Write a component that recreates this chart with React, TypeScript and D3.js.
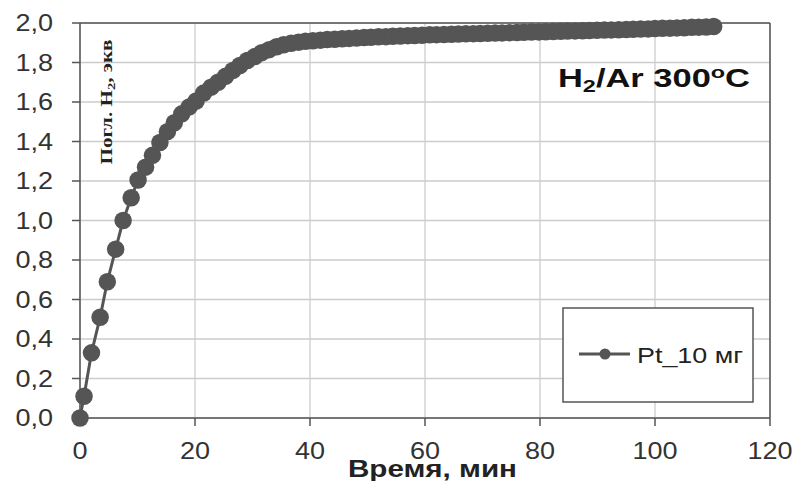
import React from 'react';
import * as d3 from 'd3';

// time, min
const times = [
  0, 0.7, 2.0, 3.5, 4.75, 6.2, 7.5, 8.9, 10.1, 11.4, 12.6, 13.9, 15.2, 16.4, 17.7, 19.0,
  20.2, 21.5, 22.8, 24.0, 25.3, 26.6, 27.8, 29.1, 30.4, 31.6, 32.9, 34.2, 35.4, 36.7, 38.0,
  39.2, 40.5, 41.8, 43.0, 44.3, 45.6, 46.8, 48.1, 49.4, 50.6, 51.9, 53.2, 54.4, 55.7, 57.0,
  58.2, 59.5, 60.8, 62.0, 63.3, 64.6, 65.8, 67.1, 68.4, 69.6, 70.9, 72.2, 73.4, 74.7, 76.0,
  77.2, 78.5, 79.8, 81.0, 82.3, 83.6, 84.8, 86.1, 87.4, 88.6, 89.9, 91.2, 92.4, 93.7, 95.0,
  96.2, 97.5, 98.8, 100.0, 101.3, 102.6, 103.8, 105.1, 106.4, 107.6, 108.9, 110.2,
];

// H2 uptake, equiv
const uptake = [
  0, 0.11, 0.33, 0.51, 0.69, 0.855, 1.0, 1.115, 1.205, 1.27, 1.33, 1.395, 1.45, 1.495, 1.54, 1.575,
  1.605, 1.645, 1.675, 1.70, 1.73, 1.76, 1.785, 1.81, 1.83, 1.85, 1.865, 1.88, 1.89, 1.897, 1.903,
  1.907, 1.91, 1.913, 1.916, 1.918, 1.92, 1.922, 1.924, 1.926, 1.928, 1.93, 1.931, 1.933, 1.934, 1.936,
  1.937, 1.938, 1.94, 1.941, 1.942, 1.943, 1.944, 1.945, 1.946, 1.947, 1.948, 1.949, 1.95, 1.951, 1.952,
  1.953, 1.954, 1.955, 1.956, 1.957, 1.958, 1.959, 1.96, 1.961, 1.962, 1.963, 1.964, 1.965, 1.966, 1.967,
  1.968, 1.969, 1.97, 1.972, 1.973, 1.974, 1.975, 1.976, 1.978, 1.979, 1.98, 1.982,
];

const xTicks = [0, 20, 40, 60, 80, 100, 120];
const yTicks = [0, 0.2, 0.4, 0.6, 0.8, 1.0, 1.2, 1.4, 1.6, 1.8, 2.0];
const seriesName = 'Pt_10 мг';

const W = 798;
const H = 481;
const margin = { top: 23, right: 28, bottom: 63, left: 80 };
const ink = '#555';
const grid = '#cccccc';

export default function App() {
  const x = d3.scaleLinear().domain([0, 120]).range([margin.left, W - margin.right]);
  const y = d3.scaleLinear().domain([0, 2]).range([H - margin.bottom, margin.top]);
  const data = times.map((t, i) => ({ t, v: uptake[i] }));
  const line = d3.line<{ t: number; v: number }>().x(d => x(d.t)).y(d => y(d.v));
  const fmt = (v: number) => d3.format('.1f')(v).replace('.', ',');

  const x0 = x(0), x1 = x(120), y0 = y(0), y1 = y(2);

  return (
    <svg width={W} height={H} style={{ position: 'absolute', left: 0, top: 0, background: '#fff' }}
      fontFamily="Arial, 'Liberation Sans', sans-serif">
      {/* grid */}
      {yTicks.map(t => (
        <line key={'gy' + t} x1={x0} x2={x1} y1={y(t)} y2={y(t)} stroke={grid} strokeWidth={1.3} />
      ))}
      {xTicks.map(t => (
        <line key={'gx' + t} x1={x(t)} x2={x(t)} y1={y0} y2={y1} stroke={grid} strokeWidth={1.3} />
      ))}
      {/* frame */}
      <line x1={x0} x2={x1} y1={y1} y2={y1} stroke={ink} strokeWidth={1.5} />
      <line x1={x1} x2={x1} y1={y1} y2={y0} stroke={ink} strokeWidth={1.5} />
      <line x1={x0} x2={x0} y1={y1} y2={y0} stroke={ink} strokeWidth={1.5} />
      <line x1={x0} x2={x1} y1={y0} y2={y0} stroke={ink} strokeWidth={1.5} />
      {/* ticks + labels */}
      {yTicks.map(t => (
        <g key={'ty' + t}>
          <line x1={x0 - 8} x2={x0} y1={y(t)} y2={y(t)} stroke={ink} strokeWidth={1.5} />
          <text x={53} y={y(t)} textAnchor="end" dominantBaseline="central" fontSize={23.5}
            fill="#333" transform={`translate(53,0) scale(1.15,1) translate(-53,0)`}>{fmt(t)}</text>
        </g>
      ))}
      {xTicks.map(t => (
        <g key={'tx' + t}>
          <line x1={x(t)} x2={x(t)} y1={y0} y2={y0 + 8} stroke={ink} strokeWidth={1.5} />
          <text x={x(t)} y={459} textAnchor="middle" fontSize={23.5} fill="#333"
            transform={`translate(${x(t)},0) scale(1.15,1) translate(${-x(t)},0)`}>{t}</text>
        </g>
      ))}

      {/* series */}
      <path d={line(data) ?? ''} fill="none" stroke={ink} strokeWidth={3} />
      {data.map((d, i) => (
        <circle key={i} cx={x(d.t)} cy={y(d.v)} r={8.75} fill={ink} />
      ))}

      {/* y label */}
      <text transform={`translate(112,102) rotate(-90)`} textAnchor="middle" fontFamily="'Liberation Serif', 'Times New Roman', serif"
        fontWeight="bold" fontSize={16} fill="#222" textLength={125} lengthAdjust="spacingAndGlyphs">
        Погл. H<tspan fontSize={11} dy={3}>2</tspan><tspan dy={-3}>, экв</tspan>
      </text>

      {/* annotation */}
      <text x={558} y={87} fontWeight="bold" fontSize={25} fill="#111" textLength={192} lengthAdjust="spacingAndGlyphs">
        H<tspan fontSize={17} dy={5}>2</tspan><tspan dy={-5}>/Ar 300</tspan><tspan fontSize={17} dy={-9}>o</tspan><tspan dy={9}>C</tspan>
      </text>

      {/* legend */}
      <rect x={563} y={308} width={190} height={94} fill="#fff" stroke={ink} strokeWidth={1.5} />
      <line x1={579} x2={630} y1={354} y2={354} stroke={ink} strokeWidth={3} />
      <circle cx={605} cy={354} r={5.5} fill={ink} />
      <text x={637} y={363} fontSize={22} fill="#222" textLength={106} lengthAdjust="spacingAndGlyphs">{seriesName}</text>

      {/* x title */}
      <text x={348} y={477} fontWeight="bold" fontSize={23} fill="#222" textLength={169} lengthAdjust="spacingAndGlyphs">
        Время, мин
      </text>
    </svg>
  );
}
